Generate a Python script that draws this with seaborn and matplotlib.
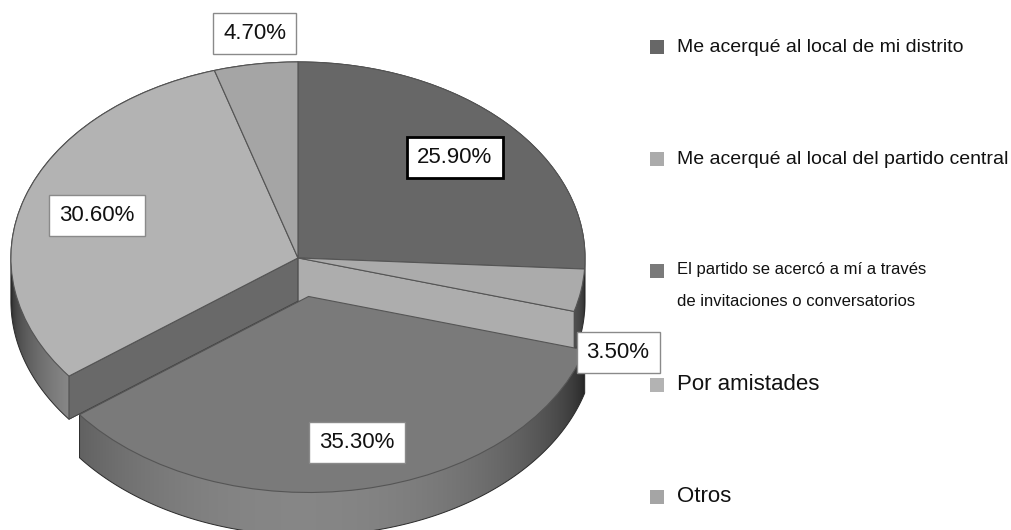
import numpy as np
import matplotlib
matplotlib.use("Agg")
import matplotlib.pyplot as plt
import seaborn as sns
from matplotlib.patches import Polygon
from matplotlib.colors import to_rgb

# datos
labels = ["Me acerqué al local de mi distrito",
          "Me acerqué al local del partido central",
          "El partido se acercó a mí a través\nde invitaciones o conversatorios",
          "Por amistades",
          "Otros"]
values = [25.9, 3.5, 35.3, 30.6, 4.7]
pct_labels = ["25.90%", "3.50%", "35.30%", "30.60%", "4.70%"]
colors = ["#676767", "#ababab", "#7a7a7a", "#b3b3b3", "#a5a5a5"]
explode = [0, 0, 0.2, 0, 0]

sns.set_theme(style="white")
plt.rcParams['font.family'] = ['Liberation Sans', 'DejaVu Sans']

fig = plt.figure(figsize=(10.11, 5.30), dpi=100)
ax = fig.add_axes([0, 0, 1, 1])

# cara superior
wedges, _ = ax.pie(values, colors=colors, startangle=90, counterclock=False,
                   explode=explode,
                   wedgeprops=dict(edgecolor="#555555", linewidth=0.8, zorder=5))

depth = 0.22


def wedge_outline(w, n=240):
    t = np.radians(np.linspace(w.theta1, w.theta2, n))
    c = np.array(w.center)
    arc = c + w.r * np.column_stack([np.cos(t), np.sin(t)])
    return np.vstack([c, arc])


def convex_hull(pts):
    pts = sorted(set(map(tuple, np.round(pts, 6))))

    def cross(o, a, b):
        return (a[0] - o[0]) * (b[1] - o[1]) - (a[1] - o[1]) * (b[0] - o[0])
    lower, upper = [], []
    for p in pts:
        while len(lower) >= 2 and cross(lower[-2], lower[-1], p) <= 0:
            lower.pop()
        lower.append(p)
    for p in reversed(pts):
        while len(upper) >= 2 and cross(upper[-2], upper[-1], p) <= 0:
            upper.pop()
        upper.append(p)
    return np.array(lower[:-1] + upper[:-1])


# laterales (de atrás hacia adelante)
mid_sin = [np.sin(np.radians((w.theta1 + w.theta2) / 2)) for w in wedges]
order = sorted(range(len(wedges)), key=lambda i: -mid_sin[i])
xs = np.linspace(-1.3, 1.3, 400)
for k, i in enumerate(order):
    w = wedges[i]
    P = wedge_outline(w)
    H = convex_hull(np.vstack([P, P - [0, depth]]))
    side = Polygon(H, closed=True, fc="none", ec="#2a2a2a", lw=0.7,
                   zorder=1 + k * 0.1 + 0.05)
    ax.add_patch(side)
    g = to_rgb(colors[i])[0] * 1.1
    shade = np.clip(g * (0.22 + 0.78 * np.sqrt(np.clip(1 - xs ** 2, 0, 1))), 0, 1)
    img = np.dstack([np.tile(shade, (2, 1))] * 3)
    im = ax.imshow(img, extent=[-1.3, 1.3, -1.6, 1.2], aspect="auto",
                   interpolation="bilinear", zorder=1 + k * 0.1)
    im.set_clip_path(side)

# paredes internas junto a la porción separada
ex = int(np.argmax(explode))
ex_angles = [wedges[ex].theta1 % 360, wedges[ex].theta2 % 360]
for i, w in enumerate(wedges):
    if i == ex:
        continue
    for a in (w.theta1, w.theta2):
        if any(abs((a % 360) - b) < 1e-6 for b in ex_angles):
            c = np.array(w.center)
            p = c + w.r * np.array([np.cos(np.radians(a)), np.sin(np.radians(a))])
            quad = [c, p, p - [0, depth], c - [0, depth]]
            g = to_rgb(colors[i])[0] * (0.78 + 0.24 * np.cos(np.radians(a)))
            ax.add_patch(Polygon(quad, closed=True, fc=(g, g, g), ec="#444444",
                                 lw=0.6, zorder=3))

# etiquetas de porcentaje
label_x = [0.547, 1.115, 0.206, -0.700, -0.150]
label_y = [0.510, -0.480, -0.944, 0.214, 1.143]
for i, t in enumerate(pct_labels):
    ec, lw = ("black", 2.0) if i == 0 else ("#8a8a8a", 1.0)
    ax.text(label_x[i], label_y[i], t, ha="center", va="center", fontsize=16,
            color="#111111", zorder=10,
            bbox=dict(boxstyle="square,pad=0.45", fc="white", ec=ec, lw=lw))

ax.set_aspect("auto")
ax.set_xlim(-1.038, 2.484)
ax.set_ylim(-1.388, 1.316)
ax.axis("off")

# leyenda
lg = fig.add_axes([0, 0, 1, 1])
lg.set_xlim(0, 1011)
lg.set_ylim(530, 0)
lg.axis("off")
lg.patch.set_alpha(0)
leg_y = [47, 159, 271, 385, 497]
leg_size = [14, 14, 12, 16, 16]
lg.scatter([657] * len(labels), leg_y, marker="s", s=100, c=colors, linewidths=0)
for i, lab in enumerate(labels):
    if "\n" in lab:
        lg.text(677, leg_y[i] - 9, lab, ha="left", va="top", fontsize=leg_size[i],
                linespacing=2.4, color="#111111")
    else:
        lg.text(677, leg_y[i], lab, ha="left", va="center", fontsize=leg_size[i],
                color="#111111")

fig.savefig("out.png", dpi=100)
